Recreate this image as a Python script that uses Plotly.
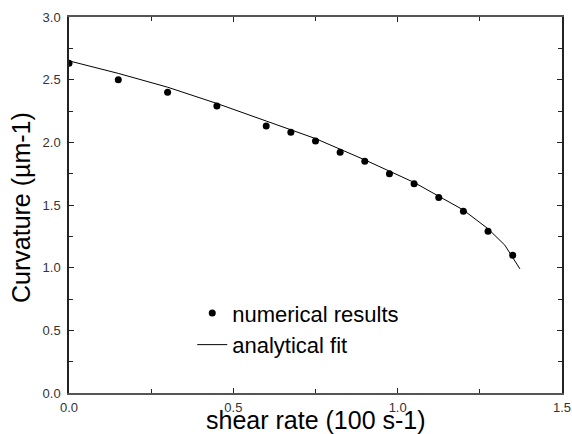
import plotly.graph_objects as go

# numerical results
num_x = [0.0, 0.15, 0.30, 0.45, 0.60, 0.675, 0.75, 0.825, 0.90, 0.975, 1.05, 1.125, 1.20, 1.275, 1.35]
num_y = [2.63, 2.50, 2.40, 2.29, 2.13, 2.08, 2.01, 1.92, 1.85, 1.75, 1.67, 1.56, 1.45, 1.29, 1.10]

# analytical fit
fit_x = [0.0, 0.15, 0.30, 0.45, 0.60, 0.75, 0.90, 1.05, 1.20, 1.275, 1.326, 1.372]
fit_y = [2.65, 2.55, 2.44, 2.31, 2.17, 2.03, 1.86, 1.68, 1.46, 1.31, 1.18, 0.99]

x_ticks = [0.0, 0.5, 1.0, 1.5]
y_ticks = [0.0, 0.5, 1.0, 1.5, 2.0, 2.5, 3.0]

FONT = "Liberation Sans, Arial, sans-serif"

fig = go.Figure()
fig.add_trace(go.Scatter(
    x=fit_x, y=fit_y, mode="lines", name="analytical fit",
    line=dict(color="black", width=1),
))
fig.add_trace(go.Scatter(
    x=num_x, y=num_y, mode="markers", name="numerical results",
    marker=dict(color="black", size=7, symbol="circle"),
))

axis_common = dict(
    showgrid=False, zeroline=False, automargin=False,
    ticks="inside", ticklen=5, tickwidth=1, tickcolor="#222",
    mirror="ticks", showline=True,
    tickfont=dict(family=FONT, size=13, color="#333"),
    minor=dict(ticks="inside", ticklen=4, tickwidth=1, tickcolor="#222", dtick=0.25),
)

fig.update_xaxes(
    range=[0, 1.5], tickvals=x_ticks, ticktext=[f"{v:.1f}" for v in x_ticks],
    linecolor="#555", linewidth=2, ticklabelstandoff=1,
    **axis_common,
)
fig.update_yaxes(
    range=[0, 3.0], tickvals=y_ticks, ticktext=[f"{v:.1f}" for v in y_ticks],
    linecolor="#222", linewidth=1.5,
    ticklabelstandoff=4,
    **axis_common,
)

fig.add_annotation(
    text="shear rate (100 s-1)", xref="paper", yref="paper", x=0.5, y=0,
    xanchor="center", yanchor="middle", yshift=-27, showarrow=False,
    font=dict(family=FONT, size=25, color="black"),
)
fig.add_annotation(
    text="Curvature (µm-1)", xref="paper", yref="paper", x=0, y=0.5,
    xanchor="center", yanchor="middle", xshift=-48, yshift=-3, textangle=-90,
    showarrow=False, font=dict(family=FONT, size=25, color="black"),
)

fig.update_layout(
    width=572, height=434,
    margin=dict(l=69, r=10, t=17, b=41),
    paper_bgcolor="white", plot_bgcolor="white",
    font=dict(family=FONT),
    legend=dict(
        x=0.25, y=0.268, xanchor="left", yanchor="top",
        traceorder="reversed",
        font=dict(family=FONT, size=22, color="black"),
        bgcolor="rgba(0,0,0,0)",
    ),
)

# remove the default page margin so the figure fills the window exactly
fig.write_html(
    "out.html",
    config={"displayModeBar": False},
    post_script="document.body.style.margin='0';document.body.style.overflow='hidden';",
)
